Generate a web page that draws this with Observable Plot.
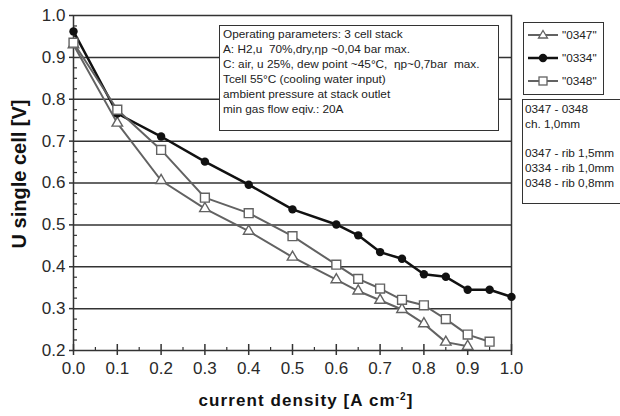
<!DOCTYPE html>
<html><head><meta charset="utf-8">
<script src="https://cdn.jsdelivr.net/npm/d3@7"></script>
<script src="https://cdn.jsdelivr.net/npm/@observablehq/plot@0.6"></script>
<style>
html,body{margin:0;padding:0;background:#fff;overflow:hidden;}
#wrap{position:relative;width:620px;height:416px;font-family:"Liberation Sans",Arial,sans-serif;color:#222;}
#chart{position:absolute;left:0;top:0;}
.box{position:absolute;background:#fff;border:1.5px solid #333;box-sizing:border-box;}
.box div{white-space:pre;}
</style></head><body>
<div id="wrap"><div id="chart"></div></div>
<script>
const x0347 = [0,0.1,0.2,0.3,0.4,0.5,0.6,0.65,0.7,0.75,0.8,0.85,0.9];
const y0347 = [0.93,0.743,0.606,0.539,0.485,0.423,0.369,0.342,0.320,0.298,0.264,0.220,0.210];
const x0334 = [0,0.1,0.2,0.3,0.4,0.5,0.6,0.65,0.7,0.75,0.8,0.85,0.9,0.95,1.0];
const y0334 = [0.962,0.766,0.711,0.651,0.596,0.537,0.501,0.475,0.435,0.419,0.382,0.376,0.345,0.345,0.328];
const x0348 = [0,0.1,0.2,0.3,0.4,0.5,0.6,0.65,0.7,0.75,0.8,0.85,0.9,0.95];
const y0348 = [0.935,0.775,0.679,0.565,0.528,0.473,0.405,0.371,0.348,0.321,0.308,0.275,0.238,0.221];
const xTicks = [0,0.1,0.2,0.3,0.4,0.5,0.6,0.7,0.8,0.9,1.0];
const xMinor = [0.05,0.15,0.25,0.35,0.45,0.55,0.65,0.75,0.85,0.95];
const yTicks = [0.2,0.3,0.4,0.5,0.6,0.7,0.8,0.9,1.0];
const yGrid = [0.3,0.4,0.5,0.6,0.7,0.8,0.9];
const yMinor = [0.225,0.25,0.275,0.325,0.35,0.375,0.425,0.45,0.475,0.525,0.55,0.575,0.625,0.65,0.675,0.725,0.75,0.775,0.825,0.85,0.875,0.925,0.95,0.975];
const seriesNames = ['"0347"','"0334"','"0348"'];
const noteLines = [
  "Operating parameters: 3 cell stack",
  "A: H2,u  70%,dry,\u03b7p ~0,04 bar max.",
  "C: air, u 25%, dew point ~45\u00b0C,  \u03b7p~0,7bar  max.",
  "Tcell 55\u00b0C (cooling water input)",
  "ambient pressure at stack outlet",
  "min gas flow eqiv.: 20A"
];
const ribLines = ["0347 - 0348","ch. 1,0mm","","0347 - rib 1,5mm","0334 - rib 1,0mm","0348 - rib 0,8mm"];
const yLabel = "U single cell [V]";

const pts = (xs, ys) => xs.map((x,i)=>({x, y: ys[i]}));
const d47 = pts(x0347,y0347), d34 = pts(x0334,y0334), d48 = pts(x0348,y0348);
const gray = "#626262";

const plot = Plot.plot({
  width: 620, height: 416,
  marginLeft: 73, marginRight: 109, marginTop: 15, marginBottom: 66,
  style: {fontFamily: '"Liberation Sans", Arial, sans-serif', background: "#fff", color: "#222"},
  x: {domain: [0,1]},
  y: {domain: [0.2,1.0]},
  marks: [
    Plot.gridY(yGrid, {stroke: "#333", strokeOpacity: 1, strokeWidth: 1.5}),
    Plot.frame({stroke: "#333", strokeWidth: 1.5}),
    Plot.axisY(yTicks, {tickSize: 4, tickPadding: 4, tickFormat: d3.format(".1f"), fontSize: 17, label: null, stroke: "#333", strokeWidth: 1.5, fill: "#2a2a2a"}),
    Plot.axisY(yMinor, {tickSize: -4, text: null, label: null, stroke: "#333", strokeWidth: 1.2}),
    Plot.axisX(xTicks, {tickSize: 5, tickPadding: 6, tickFormat: d3.format(".1f"), fontSize: 17, label: null, stroke: "#333", strokeWidth: 1.5, fill: "#2a2a2a"}),
    Plot.axisX(xTicks, {tickSize: -6, text: null, label: null, stroke: "#333", strokeWidth: 1.5}),
    Plot.axisX(xMinor, {tickSize: -3, text: null, label: null, stroke: "#333", strokeWidth: 1.2}),
    Plot.line(d47, {x: "x", y: "y", stroke: gray, strokeWidth: 2}),
    Plot.dot(d47, {x: "x", y: "y", symbol: "triangle", r: 3.9, stroke: gray, fill: "#fff", strokeWidth: 1.4}),
    Plot.line(d34, {x: "x", y: "y", stroke: "#111", strokeWidth: 2.5}),
    Plot.dot(d34, {x: "x", y: "y", symbol: "circle", r: 4.2, fill: "#111", stroke: "none"}),
    Plot.line(d48, {x: "x", y: "y", stroke: gray, strokeWidth: 2}),
    Plot.dot(d48, {x: "x", y: "y", symbol: "square", r: 5, stroke: gray, fill: "#fff", strokeWidth: 1.4}),
    Plot.text([yLabel], {frameAnchor: "left", textAnchor: "middle", rotate: -90, dx: -54, dy: -9, fontSize: 20, fontWeight: "bold", fill: "#111", letterSpacing: 1})
  ]
});
const wrap = document.getElementById("wrap");
document.getElementById("chart").appendChild(plot);

// annotation box
const note = document.createElement("div");
note.className = "box";
Object.assign(note.style, {left: "219px", top: "25px", width: "280px", height: "106px", padding: "1px 0 0 3px", fontSize: "11.8px", lineHeight: "15px"});
noteLines.forEach(t => { const d = document.createElement("div"); d.textContent = t; note.appendChild(d); });
wrap.appendChild(note);

// legend box
const leg = document.createElement("div");
leg.className = "box";
Object.assign(leg.style, {left: "523px", top: "22px", width: "81px", height: "73px"});
const syms = [
  `<line x1="4" y1="8" x2="34" y2="8" stroke="${gray}" stroke-width="2"/><path d="M19,3.5 L23.5,11 L14.5,11 Z" fill="#fff" stroke="${gray}" stroke-width="1.3"/>`,
  `<line x1="4" y1="8" x2="34" y2="8" stroke="#111" stroke-width="2.5"/><circle cx="19" cy="8" r="4.2" fill="#111"/>`,
  `<line x1="4" y1="8" x2="34" y2="8" stroke="${gray}" stroke-width="2"/><rect x="15" y="4" width="8" height="8" fill="#fff" stroke="${gray}" stroke-width="1.3"/>`
];
seriesNames.forEach((n,i) => {
  const row = document.createElement("div");
  Object.assign(row.style, {position: "absolute", left: "0px", top: (4 + i*23) + "px", height: "16px", display: "flex", alignItems: "center", fontSize: "11.8px"});
  row.innerHTML = `<svg width="38" height="16" style="display:block">${syms[i]}</svg><span>${n}</span>`;
  leg.appendChild(row);
});
wrap.appendChild(leg);

// rib box
const rib = document.createElement("div");
rib.className = "box";
Object.assign(rib.style, {left: "522px", top: "99px", width: "120px", height: "105px", padding: "2px 0 0 2px", fontSize: "11.8px", lineHeight: "14.8px"});
ribLines.forEach(t => { const d = document.createElement("div"); d.textContent = t || " "; rib.appendChild(d); });
wrap.appendChild(rib);

// x label
const xl = document.createElement("div");
Object.assign(xl.style, {position: "absolute", left: "0px", width: "612px", top: "391px", textAlign: "center", fontSize: "17px", fontWeight: "bold", color: "#111", whiteSpace: "nowrap", letterSpacing: "1.1px"});
xl.innerHTML = 'current density [A cm<sup style="font-size:10px;vertical-align:6px;line-height:0">-2</sup>]';
wrap.appendChild(xl);
</script>
</body></html>
